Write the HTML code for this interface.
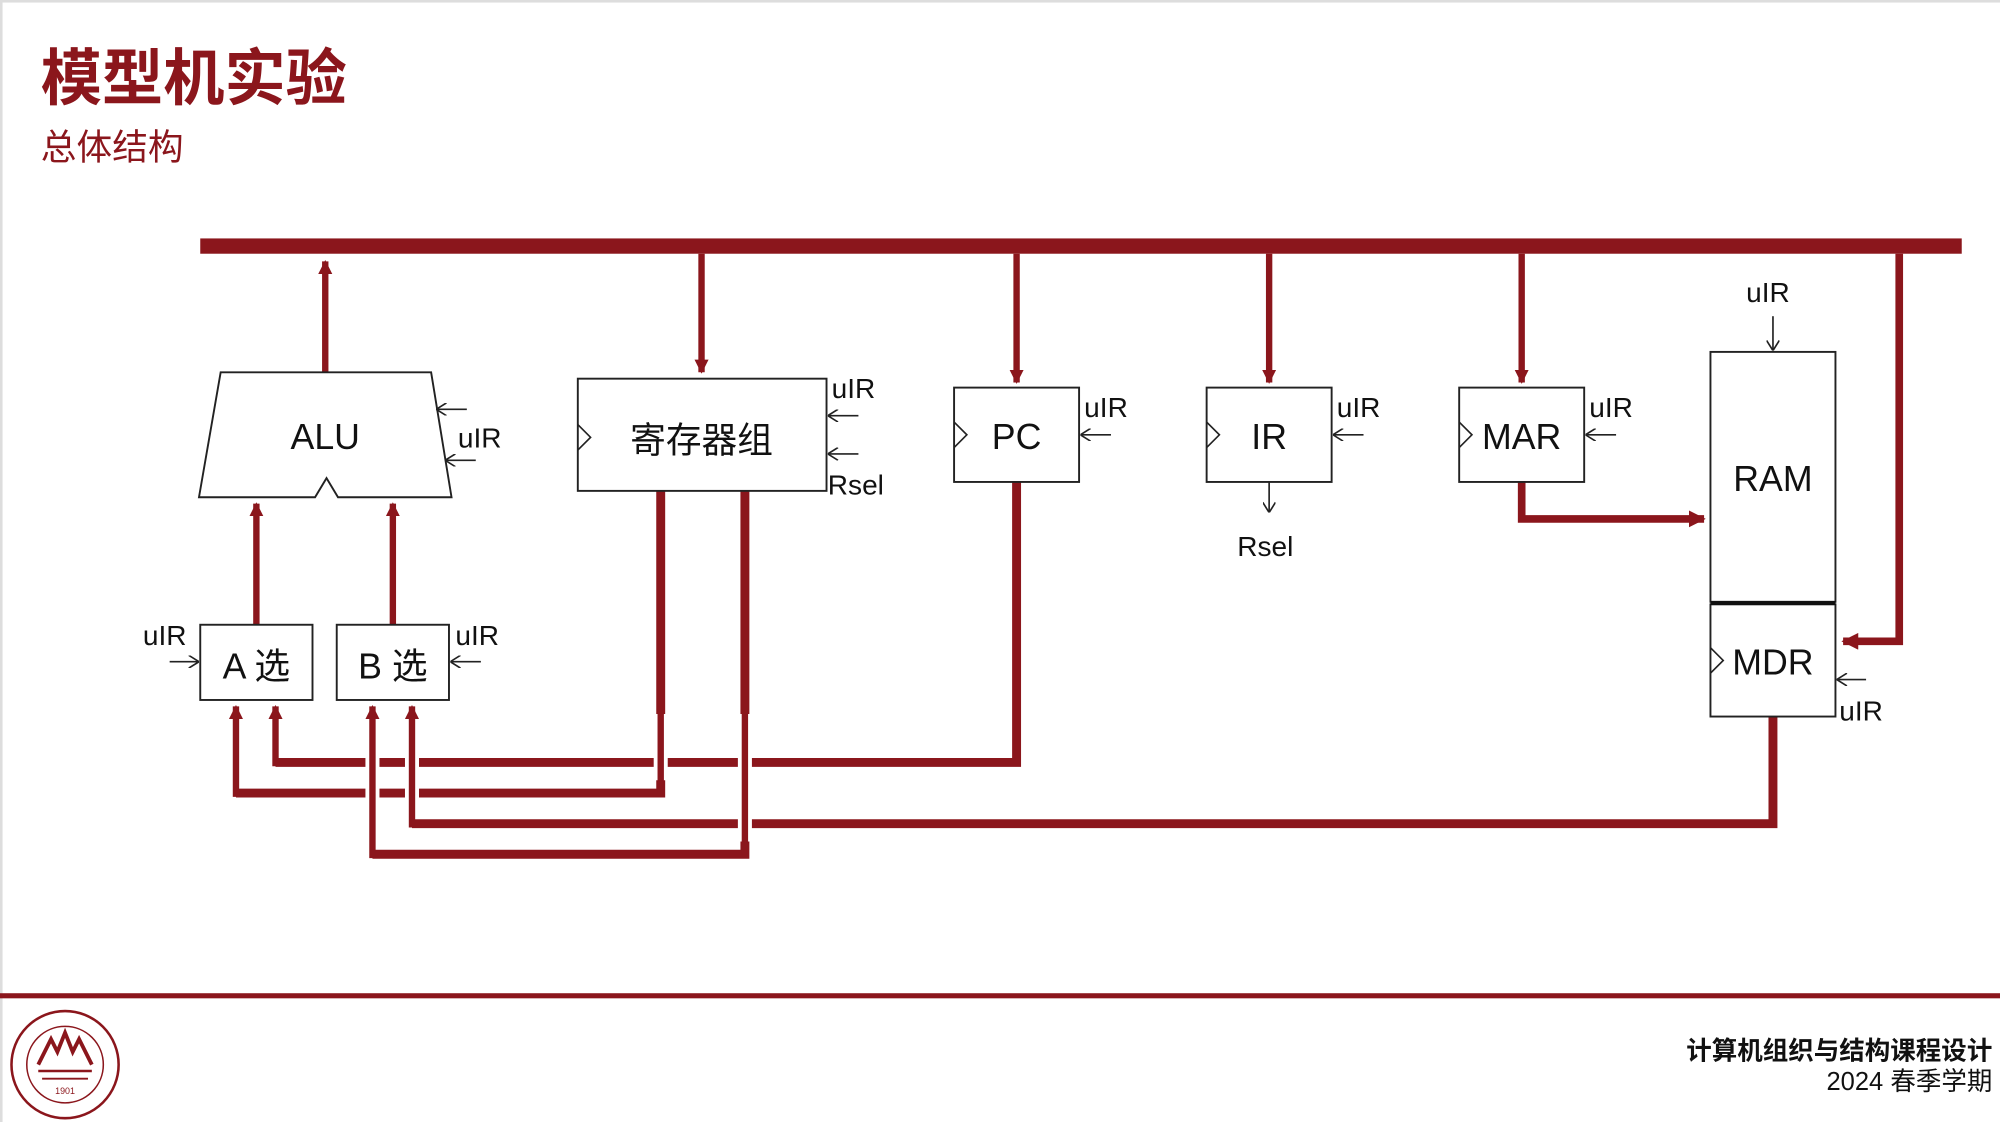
<!DOCTYPE html>
<html><head><meta charset="utf-8"><style>
html,body{margin:0;padding:0;background:#fff;}
svg{display:block;}
text{font-family:"Liberation Sans","Noto Sans CJK SC",sans-serif;}
</style></head><body>
<svg width="2000" height="1122" viewBox="0 0 1568 880" preserveAspectRatio="none" xmlns="http://www.w3.org/2000/svg">
<defs>
<marker id="ra" viewBox="0 0 10 10" refX="9" refY="5" markerWidth="2.2" markerHeight="2.2" orient="auto-start-reverse" markerUnits="strokeWidth"><path d="M0,0 L10,5 L0,10 z" fill="#8b161c"/></marker>
<marker id="ka" viewBox="0 0 10 10" refX="10" refY="5" markerWidth="10" markerHeight="10" orient="auto" markerUnits="userSpaceOnUse"><path d="M2,0 L10,5 L2,10" fill="none" stroke="#222" stroke-width="1.3"/></marker>
</defs>
<rect x="0" y="0" width="1568" height="2" fill="#ddd"/>
<rect x="0" y="0" width="2" height="880" fill="#ddd"/>
<text x="32" y="78" font-size="48" font-weight="bold" fill="#8b161c">模型机实验</text>
<text x="32" y="125" font-size="28" fill="#8b161c">总体结构</text>

<!-- bus -->
<rect x="157" y="187" width="1381" height="12" fill="#8b161c"/>

<g stroke="#8b161c" stroke-width="5" fill="none">
<line x1="255" y1="292" x2="255" y2="205" marker-end="url(#ra)"/>
<line x1="550" y1="199" x2="550" y2="292" marker-end="url(#ra)"/>
<line x1="797" y1="199" x2="797" y2="300" marker-end="url(#ra)"/>
<line x1="995" y1="199" x2="995" y2="300" marker-end="url(#ra)"/>
<line x1="1193" y1="199" x2="1193" y2="300" marker-end="url(#ra)"/>
<polyline points="1193,378 1193,407 1336,407" stroke-width="6" marker-end="url(#ra)"/>
<polyline points="1489,199 1489,503 1445,503" stroke-width="6" marker-end="url(#ra)"/>
<line x1="201" y1="490" x2="201" y2="395" marker-end="url(#ra)"/>
<line x1="308" y1="490" x2="308" y2="395" marker-end="url(#ra)"/>
</g>

<!-- lower wiring: horizontals -->
<g stroke="#8b161c" stroke-width="7" fill="none">
<polyline points="797,378 797,598 216,598"/>
<polyline points="518,385 518,622 185,622"/>
<polyline points="1390,562 1390,646 323,646"/>
<polyline points="584,385 584,670 292,670"/>
</g>
<!-- verticals with bridge gaps -->
<g fill="none">
<g stroke="#fff" stroke-width="11">
<line x1="518" y1="560" x2="518" y2="612"/>
<line x1="584" y1="560" x2="584" y2="660"/>
<line x1="292" y1="580" x2="292" y2="666"/>
<line x1="323" y1="580" x2="323" y2="640"/>
</g>
<g stroke="#8b161c" stroke-width="5">
<line x1="518" y1="385" x2="518" y2="622"/>
<line x1="584" y1="385" x2="584" y2="670"/>
<line x1="216" y1="601" x2="216" y2="554" marker-end="url(#ra)"/>
<line x1="185" y1="625" x2="185" y2="554" marker-end="url(#ra)"/>
<line x1="323" y1="649" x2="323" y2="554" marker-end="url(#ra)"/>
<line x1="292" y1="673" x2="292" y2="554" marker-end="url(#ra)"/>
</g>
</g>

<!-- boxes -->
<g stroke="#222" stroke-width="1.5" fill="#fff">
<path d="M173,292 L338,292 L354,390 L265,390 L256,375 L247,390 L156,390 Z"/>
<rect x="453" y="297" width="195" height="88"/>
<rect x="748" y="304" width="98" height="74"/>
<rect x="946" y="304" width="98" height="74"/>
<rect x="1144" y="304" width="98" height="74"/>
<rect x="1341" y="276" width="98" height="196"/>
<rect x="1341" y="474" width="98" height="88"/>
<rect x="157" y="490" width="88" height="59"/>
<rect x="264" y="490" width="88" height="59"/>
</g>
<line x1="1341" y1="473" x2="1439" y2="473" stroke="#111" stroke-width="3"/>
<g stroke="#222" stroke-width="1.3" fill="none">
<polyline points="453,333 463,343 453,353"/>
<polyline points="748,331 758,341 748,351"/>
<polyline points="946,331 956,341 946,351"/>
<polyline points="1144,331 1154,341 1144,351"/>
<polyline points="1341,508 1351,518 1341,528"/>
</g>

<!-- control arrows -->
<g stroke="#222" stroke-width="1.3" fill="none">
<line x1="366" y1="321" x2="342" y2="321" marker-end="url(#ka)"/>
<line x1="373" y1="361" x2="349" y2="361" marker-end="url(#ka)"/>
<line x1="673" y1="326" x2="649" y2="326" marker-end="url(#ka)"/>
<line x1="673" y1="356" x2="649" y2="356" marker-end="url(#ka)"/>
<line x1="871" y1="341" x2="847" y2="341" marker-end="url(#ka)"/>
<line x1="1069" y1="341" x2="1045" y2="341" marker-end="url(#ka)"/>
<line x1="1267" y1="341" x2="1243" y2="341" marker-end="url(#ka)"/>
<line x1="1463" y1="533" x2="1440" y2="533" marker-end="url(#ka)"/>
<line x1="1390" y1="248" x2="1390" y2="275" marker-end="url(#ka)"/>
<line x1="995" y1="378" x2="995" y2="402" marker-end="url(#ka)"/>
<line x1="133" y1="519" x2="156" y2="519" marker-end="url(#ka)"/>
<line x1="377" y1="519" x2="353" y2="519" marker-end="url(#ka)"/>
</g>

<!-- labels -->
<g font-size="28" fill="#111" text-anchor="middle">
<text x="255" y="352">ALU</text>
<text x="550" y="355">寄存器组</text>
<text x="797" y="352">PC</text>
<text x="995" y="352">IR</text>
<text x="1193" y="352">MAR</text>
<text x="1390" y="385">RAM</text>
<text x="1390" y="529">MDR</text>
<text x="201" y="532">A 选</text>
<text x="308" y="532">B 选</text>
</g>
<g font-size="22" fill="#111">
<text x="359" y="351">uIR</text>
<text x="652" y="312">uIR</text>
<text x="649" y="388">Rsel</text>
<text x="850" y="327">uIR</text>
<text x="1048" y="327">uIR</text>
<text x="1246" y="327">uIR</text>
<text x="1369" y="237">uIR</text>
<text x="1442" y="565">uIR</text>
<text x="970" y="436">Rsel</text>
<text x="112" y="506">uIR</text>
<text x="357" y="506">uIR</text>
</g>

<!-- footer -->
<rect x="0" y="779" width="1568" height="4" fill="#8b161c"/>
<g fill="none" stroke="#8b161c">
<circle cx="51" cy="835" r="42" stroke-width="2"/>
<circle cx="51" cy="835" r="30" stroke-width="1.2"/>
<path d="M30,835 L40,815 L45,825 L51,810 L57,825 L62,815 L72,835" stroke-width="3"/>
<line x1="30" y1="840" x2="72" y2="840" stroke-width="2"/>
<line x1="33" y1="846" x2="69" y2="846" stroke-width="1.5"/>
</g>
<text x="51" y="858" font-size="7" fill="#8b161c" text-anchor="middle">1901</text>
<text x="1562" y="831" font-size="20" font-weight="bold" fill="#111" text-anchor="end">计算机组织与结构课程设计</text>
<text x="1562" y="855" font-size="20" fill="#111" text-anchor="end">2024 春季学期</text>
</svg>
</body></html>
